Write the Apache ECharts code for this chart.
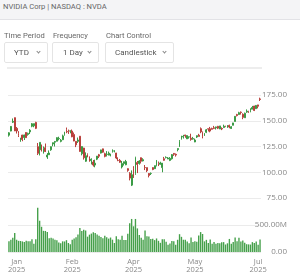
<!DOCTYPE html>
<html>
<head>
<meta charset="utf-8">
<script src="https://cdn.jsdelivr.net/npm/echarts@6/dist/echarts.min.js"></script>
<style>
  body { margin: 0; background: #fff; font-family: Roboto, sans-serif; }
  #wrap { position: relative; width: 300px; height: 279px; overflow: hidden; }
  #top { position: absolute; left: 0; top: 0; width: 300px; height: 20px; background: #f4f4f6;
         border-bottom: 1px solid #e2e2e6; font-size: 7.6px; color: #666; line-height: 14px; padding-left: 3px; box-sizing: border-box; }
  .lbl { position: absolute; top: 31px; font-size: 7.6px; color: #666; }
  .sel { position: absolute; top: 42px; height: 21px; border: 1px solid #e4e4e4; border-radius: 2px;
         box-sizing: border-box; font-size: 8px; color: #555; line-height: 19px; background: #fff; }
  .sel span.t { position: absolute; }
  .chev { position: absolute; top: 7px; width: 2px; height: 2px; border-right: 1px solid #888; border-bottom: 1px solid #888; transform: rotate(45deg); }
  #sep { position: absolute; left: 7px; top: 67px; width: 255px; height: 2px; background: #ededed; }
  #chart { position: absolute; left: 0; top: 0; width: 300px; height: 279px; }
</style>
</head>
<body>
<div id="wrap">
  <div id="chart"></div>
  <div id="top">NVIDIA Corp | NASDAQ : NVDA</div>
  <div class="lbl" style="left:4px">Time Period</div>
  <div class="lbl" style="left:53px">Frequency</div>
  <div class="lbl" style="left:106px">Chart Control</div>
  <div class="sel" style="left:4px;width:44px"><span class="t" style="left:9px">YTD</span><span class="chev" style="left:32px"></span></div>
  <div class="sel" style="left:52px;width:47px"><span class="t" style="left:10px">1 Day</span><span class="chev" style="left:35px"></span></div>
  <div class="sel" style="left:105px;width:69px"><span class="t" style="left:9px">Candlestick</span><span class="chev" style="left:57px"></span></div>
  <div id="sep"></div>
</div>
<script>
// NVDA daily data, Jan 2 - Jul 15 2025
const dates = [
  '2025-01-02','2025-01-03','2025-01-06','2025-01-07','2025-01-08','2025-01-10','2025-01-13','2025-01-14','2025-01-15','2025-01-16',
  '2025-01-17','2025-01-21','2025-01-22','2025-01-23','2025-01-24','2025-01-27','2025-01-28','2025-01-29','2025-01-30','2025-01-31',
  '2025-02-03','2025-02-04','2025-02-05','2025-02-06','2025-02-07','2025-02-10','2025-02-11','2025-02-12','2025-02-13','2025-02-14',
  '2025-02-18','2025-02-19','2025-02-20','2025-02-21','2025-02-24','2025-02-25','2025-02-26','2025-02-27','2025-02-28',
  '2025-03-03','2025-03-04','2025-03-05','2025-03-06','2025-03-07','2025-03-10','2025-03-11','2025-03-12','2025-03-13','2025-03-14',
  '2025-03-17','2025-03-18','2025-03-19','2025-03-20','2025-03-21','2025-03-24','2025-03-25','2025-03-26','2025-03-27','2025-03-28','2025-03-31',
  '2025-04-01','2025-04-02','2025-04-03','2025-04-04','2025-04-07','2025-04-08','2025-04-09','2025-04-10','2025-04-11','2025-04-14',
  '2025-04-15','2025-04-16','2025-04-17','2025-04-21','2025-04-22','2025-04-23','2025-04-24','2025-04-25','2025-04-28','2025-04-29','2025-04-30',
  '2025-05-01','2025-05-02','2025-05-05','2025-05-06','2025-05-07','2025-05-08','2025-05-09','2025-05-12','2025-05-13','2025-05-14',
  '2025-05-15','2025-05-16','2025-05-19','2025-05-20','2025-05-21','2025-05-22','2025-05-23','2025-05-27','2025-05-28','2025-05-29','2025-05-30',
  '2025-06-02','2025-06-03','2025-06-04','2025-06-05','2025-06-06','2025-06-09','2025-06-10','2025-06-11','2025-06-12','2025-06-13',
  '2025-06-16','2025-06-17','2025-06-18','2025-06-20','2025-06-23','2025-06-24','2025-06-25','2025-06-26','2025-06-27','2025-06-30',
  '2025-07-01','2025-07-02','2025-07-03','2025-07-07','2025-07-08','2025-07-09','2025-07-10','2025-07-11','2025-07-14','2025-07-15'
];
const opens = [
  136.0,140.0,148.6,153.0,142.6,137.5,130.0,136.1,133.7,138.6,
  136.7,139.2,144.7,145.1,148.4,124.8,121.8,126.5,123.1,123.8,
  114.8,117.0,121.8,127.4,129.2,130.1,132.6,130.0,131.6,136.5,
  141.3,139.5,140.0,140.0,136.6,130.0,130.0,135.0,118.0,
  123.5,110.7,117.6,113.5,111.3,109.9,107.0,112.7,117.0,118.6,
  122.7,118.0,117.3,116.6,116.9,119.9,120.6,118.7,111.4,111.5,105.1,
  108.5,107.3,103.5,98.9,87.5,103.8,98.9,109.4,108.5,114.1,
  111.0,104.6,104.5,98.8,98.8,104.5,103.5,106.9,109.7,107.7,104.5,
  113.1,114.2,112.9,111.5,113.1,118.3,117.4,122.0,125.0,133.2,
  134.3,136.2,132.4,134.3,133.1,132.2,129.4,134.2,136.0,142.3,138.7,
  135.5,138.8,142.2,142.2,142.5,143.2,143.2,144.6,142.0,142.5,
  143.4,144.5,144.0,145.5,142.5,145.6,149.3,156.0,156.0,158.4,
  156.3,152.9,158.4,158.8,158.8,161.2,164.3,161.7,165.4,171.2
];
const highs = [
  138.9,144.9,152.2,153.1,143.9,139.9,133.5,136.4,136.5,138.8,
  138.5,141.8,147.8,147.2,149.0,128.4,129.0,126.9,125.0,127.9,
  118.6,121.2,125.0,128.8,130.4,133.0,134.5,132.2,136.5,139.3,
  143.4,141.4,140.7,141.5,138.6,130.2,133.7,135.0,125.1,
  123.7,119.3,118.3,115.4,113.5,111.9,112.2,115.4,117.8,121.9,
  122.9,119.0,120.5,120.1,118.0,122.2,121.3,118.8,114.5,112.9,111.0,
  110.2,112.0,103.8,100.1,101.8,105.9,115.1,110.9,111.7,114.3,
  113.6,107.0,104.5,99.1,99.8,104.8,106.5,111.9,110.4,110.2,108.9,
  114.9,115.4,114.7,114.7,117.7,118.7,118.2,123.0,131.2,135.4,
  136.3,136.4,135.9,134.6,137.4,134.3,132.7,135.7,137.3,143.5,139.6,
  138.1,142.0,142.4,144.0,143.3,145.0,144.3,145.0,145.0,143.6,
  146.2,145.2,145.7,146.2,144.8,148.0,154.5,156.7,158.7,159.0,
  157.2,157.9,161.0,159.7,162.1,164.4,164.5,164.5,165.5,172.4
];
const lows = [
  134.6,139.7,147.8,140.0,137.6,134.2,129.5,130.1,131.3,133.5,
  135.5,137.1,143.7,143.7,141.9,116.7,116.3,120.1,118.1,120.8,
  113.0,116.7,120.8,125.2,125.0,130.0,131.0,129.1,131.2,135.5,
  137.9,137.2,137.8,134.0,130.1,124.4,128.5,120.0,116.4,
  112.3,110.1,114.5,110.2,107.6,105.5,104.8,111.8,113.8,118.2,
  118.9,114.5,115.3,116.5,115.4,119.1,119.3,112.7,110.7,109.1,103.7,
  106.5,106.8,100.5,92.1,86.6,94.5,97.5,99.2,107.4,108.5,
  110.5,102.1,100.1,95.0,97.3,102.0,103.1,105.7,106.0,107.4,100.0,
  111.3,113.4,112.7,110.8,112.3,115.9,115.2,120.3,124.5,131.7,
  132.7,133.5,132.4,132.6,130.6,131.6,129.2,133.3,134.8,137.9,132.9,
  135.4,138.0,139.6,138.8,141.5,141.9,141.5,141.9,141.9,140.9,
  143.2,143.8,143.1,142.7,142.0,145.5,149.3,154.2,155.9,156.0,
  151.5,152.9,157.7,157.5,158.2,161.2,159.4,161.5,162.0,169.2
];
const closes = [
  138.3,144.5,149.4,140.1,140.1,135.9,133.2,131.8,136.2,133.6,
  137.7,140.8,147.1,147.2,142.6,118.4,129.0,123.7,124.7,120.1,
  116.7,118.7,124.8,128.7,129.8,133.6,132.8,131.1,135.3,138.9,
  139.4,139.2,140.1,134.4,130.3,126.6,131.3,120.2,124.9,
  114.1,116.0,117.3,110.6,112.7,107.0,108.8,115.7,115.6,121.7,
  119.5,115.4,117.5,118.5,117.7,121.4,120.7,113.8,111.4,109.7,108.4,
  110.2,110.4,101.8,94.3,97.6,96.3,114.3,107.6,110.9,110.7,
  112.2,104.5,101.5,96.9,98.9,102.7,106.4,111.0,108.7,109.0,108.9,
  111.6,114.5,113.8,113.5,117.1,117.4,116.7,123.0,129.9,135.3,
  134.8,135.4,135.6,134.4,131.8,132.8,131.3,135.5,134.8,139.2,135.1,
  137.4,141.2,141.9,140.0,141.7,142.6,144.0,142.8,145.0,142.0,
  144.7,144.1,145.5,143.9,144.2,147.9,154.3,155.0,157.8,158.0,
  153.3,157.3,159.3,158.2,160.0,162.9,160.0,164.9,164.1,170.7
];
// volume in millions of shares
const volumes = [
  198,229,265,351,227,207,204,196,185,209,
  201,197,237,155,234,818,579,467,392,390,
  371,256,262,251,228,216,178,160,197,195,
  219,167,143,228,251,271,322,443,389,
  411,398,284,321,341,366,354,323,299,277,
  255,299,273,248,268,228,167,293,236,229,299,
  222,220,338,533,612,476,612,437,313,264,
  229,397,290,288,241,247,220,251,207,170,235,
  236,190,134,158,206,198,132,226,330,281,
  227,226,193,161,270,187,198,192,304,369,333,
  197,225,167,231,153,185,155,167,162,180,
  183,139,161,242,154,187,269,198,263,194,
  212,171,144,141,138,183,167,193,136,230
];

// indices of the dates that carry an x-axis label
const labelIdx = [4, 33, 65, 97, 130];
const monthNames = ['Jan','Feb','Mar','Apr','May','Jun','Jul','Aug','Sep','Oct','Nov','Dec'];

const upColor = '#3b9b46';
const downColor = '#b9413d';

const ohlc = dates.map((d, i) => [opens[i], closes[i], lows[i], highs[i]]);
const volData = volumes.map(v => v * 1e6);

const chart = echarts.init(document.getElementById('chart'));

const option = {
    animation: false,
    textStyle: { fontFamily: '"Open Sans", sans-serif' },
    grid: [
        { left: 8, width: 253, top: 95, height: 103 },
        { left: 8, width: 253, top: 198, height: 54 }
    ],
    xAxis: [
        {
            type: 'category', gridIndex: 0, data: dates,
            axisLine: { show: false }, axisTick: { show: false }, axisLabel: { show: false },
            splitLine: { show: false }
        },
        {
            type: 'category', gridIndex: 1, data: dates,
            axisLine: { show: false }, axisTick: { show: false },
            splitLine: { show: false },
            axisLabel: {
                interval: (idx) => labelIdx.includes(idx),
                formatter: (v) => monthNames[parseInt(v.substring(5, 7)) - 1] + '\n' + v.substring(0, 4),
                fontSize: 7.5, color: '#888', margin: 6, lineHeight: 8
            }
        }
    ],
    yAxis: [
        {
            type: 'value', gridIndex: 0, position: 'right',
            min: 75, max: 175, interval: 25,
            axisLine: { show: false }, axisTick: { show: false },
            splitLine: { lineStyle: { color: '#ebebeb' } },
            axisLabel: {
                align: 'right', margin: 26, fontSize: 8, color: '#888',
                formatter: (v) => v.toFixed(2)
            }
        },
        {
            type: 'value', gridIndex: 1, position: 'right',
            min: 0, max: 1000e6, interval: 500e6,
            axisLine: { show: false }, axisTick: { show: false },
            splitLine: { lineStyle: { color: '#ebebeb' } },
            axisLabel: {
                align: 'right', margin: 26, fontSize: 8, color: '#888', showMaxLabel: false,
                formatter: (v) => v === 0 ? '0.00' : (v / 1e6).toFixed(2) + 'M'
            }
        }
    ],
    series: [
        {
            type: 'candlestick', xAxisIndex: 0, yAxisIndex: 0, data: ohlc,
            barWidth: '70%',
            itemStyle: {
                color: upColor, color0: downColor,
                borderColor: upColor, borderColor0: downColor, borderWidth: 1
            }
        },
        {
            type: 'bar', xAxisIndex: 1, yAxisIndex: 1, data: volData,
            barWidth: '72%',
            itemStyle: { color: '#45a04a' }
        }
    ]
};

chart.setOption(option);
</script>
</body>
</html>
